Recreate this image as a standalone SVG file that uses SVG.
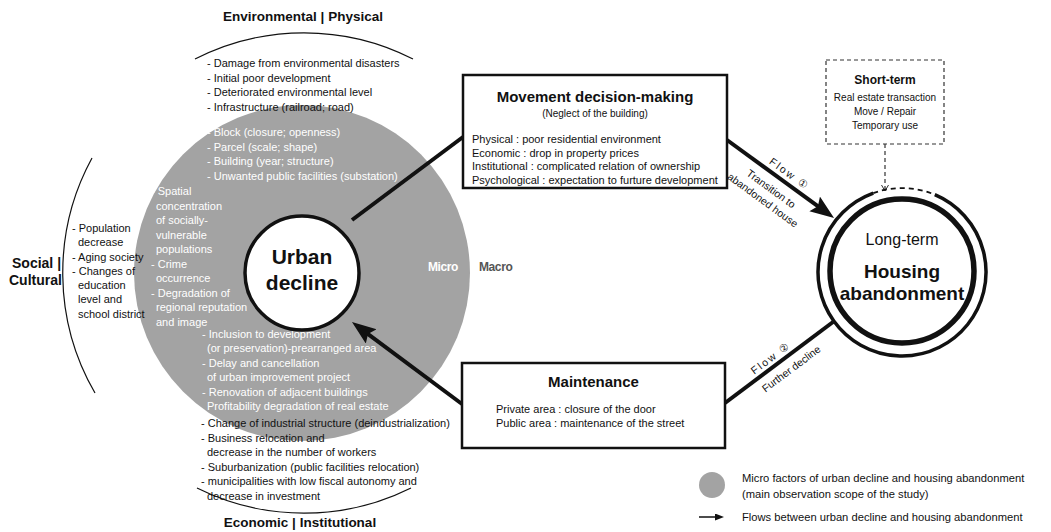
<svg xmlns="http://www.w3.org/2000/svg" width="1051" height="532" viewBox="0 0 1051 532">
<defs>
<style>
text{font-family:"Liberation Sans",Arial,"DejaVu Sans",sans-serif;fill:#111}
.t{font-size:11px}
.w{font-size:11px;fill:#fff}
.b{font-weight:bold}
.h{font-size:13.5px;font-weight:bold}
.s{font-size:10px}
.m{text-anchor:middle}
.box{fill:#fff;stroke:#111;stroke-width:2.5}
.arc{fill:none;stroke:#111;stroke-width:1.2}
.con{fill:none;stroke:#111;stroke-width:4}
.fl{font-size:10.5px}
</style>
<marker id="ah" markerUnits="userSpaceOnUse" markerWidth="26" markerHeight="20" refX="6" refY="9" orient="auto">
<path d="M0,0 L24,9 L0,18 L4,9 z" fill="#111"/>
</marker>
<marker id="ahs" markerUnits="userSpaceOnUse" markerWidth="12" markerHeight="10" refX="2" refY="3.5" orient="auto">
<path d="M0,0 L9,3.5 L0,7 z" fill="#111"/>
</marker>
<marker id="ahv" markerUnits="userSpaceOnUse" markerWidth="10" markerHeight="10" refX="6" refY="3.5" orient="auto">
<path d="M0,0 L6,3.5 L0,7" fill="none" stroke="#333" stroke-width="1"/>
</marker>
</defs>
<rect width="1051" height="532" fill="#fff"/>

<g id="scope">
<circle cx="302" cy="273" r="168" fill="#a3a3a3"/>
<path class="arc" d="M195,59 A240,240 0 0 1 413,59"/>
<path class="arc" d="M92,158 A240,240 0 0 0 95,393"/>
<path class="arc" d="M197,488 A240,240 0 0 0 411,488"/>
<text class="h m" x="303" y="21">Environmental | Physical</text>
<text class="h m" x="300" y="527">Economic | Institutional</text>
<text class="h" x="12" y="268" style="font-size:14px">Social |</text>
<text class="h" x="9" y="285" style="font-size:14px">Cultural</text>
<text class="t" x="207" y="67">- Damage from environmental disasters</text>
<text class="t" x="207" y="81.5">- Initial poor development</text>
<text class="t" x="207" y="96">- Deteriorated environmental level</text>
<text class="t" x="207" y="110.5">- Infrastructure (railroad; road)</text>
<text class="w" x="207" y="136">- Block (closure; openness)</text>
<text class="w" x="207" y="150.5">- Parcel (scale; shape)</text>
<text class="w" x="207" y="165">- Building (year; structure)</text>
<text class="w" x="207" y="179.5">- Unwanted public facilities (substation)</text>
<text class="w" x="151" y="195">- Spatial</text>
<text class="w" x="156" y="209.5">concentration</text>
<text class="w" x="156" y="224">of socially-</text>
<text class="w" x="156" y="238.5">vulnerable</text>
<text class="w" x="156" y="253">populations</text>
<text class="w" x="151" y="267.5">- Crime</text>
<text class="w" x="156" y="282">occurrence</text>
<text class="w" x="151" y="296.5">- Degradation of</text>
<text class="w" x="156" y="311">regional reputation</text>
<text class="w" x="156" y="325.5">and image</text>
<text class="t" x="72" y="232">- Population</text>
<text class="t" x="78" y="246">decrease</text>
<text class="t" x="72" y="260.5">- Aging society</text>
<text class="t" x="72" y="274.5">- Changes of</text>
<text class="t" x="78" y="289">education</text>
<text class="t" x="78" y="303">level and</text>
<text class="t" x="78" y="317.5">school district</text>
<text class="w" x="202" y="338">- Inclusion to development</text>
<text class="w" x="207" y="352">(or preservation)-prearranged area</text>
<text class="w" x="202" y="367">- Delay and cancellation</text>
<text class="w" x="207" y="381">of urban improvement project</text>
<text class="w" x="202" y="395.5">- Renovation of adjacent buildings</text>
<text class="w" x="207" y="410">Profitability degradation of real estate</text>
<text class="t" x="201" y="427">- Change of industrial structure (deindustrialization)</text>
<text class="t" x="201" y="441.5">- Business relocation and</text>
<text class="t" x="207" y="456">decrease in the number of workers</text>
<text class="t" x="201" y="470.5">- Suburbanization (public facilities relocation)</text>
<text class="t" x="201" y="485">- municipalities with low fiscal autonomy  and</text>
<text class="t" x="207" y="499.5">decrease in investment</text>
<text class="b" x="428" y="271" style="font-size:12px;fill:#fff;letter-spacing:-0.4px">Micro</text>
<text class="b" x="479" y="271" style="font-size:12px;fill:#555;letter-spacing:-0.4px">Macro</text>
</g>

<g id="connectors">
<line class="con" x1="352" y1="220" x2="463" y2="137"/>
<line class="con" x1="727" y1="140" x2="819.5" y2="207.4" marker-end="url(#ah)"/>
<line class="con" x1="833" y1="322" x2="725" y2="403"/>
<line class="con" x1="462" y1="404" x2="366.4" y2="332.8" marker-end="url(#ah)"/>
<line x1="885" y1="144" x2="885" y2="191" stroke="#333" stroke-width="1.2" stroke-dasharray="4,3" marker-end="url(#ahv)"/>
<g transform="translate(780,180) rotate(36.1)">
<text class="fl m" x="4" y="-7" style="letter-spacing:2px">Flow ①</text>
<text class="fl m" x="-2" y="16">Transition to</text>
<text class="fl m" x="-2" y="30">abandoned house</text>
</g>
<g transform="translate(779,362.5) rotate(-36.9)">
<text class="fl m" x="-4" y="-5" style="letter-spacing:2px">Flow ②</text>
<text class="fl m" x="6" y="16">Further decline</text>
</g>
</g>

<g id="urban-decline">
<circle cx="302" cy="273" r="57" fill="#fff" stroke="#111" stroke-width="3.5"/>
<text class="b m" x="302" y="264" style="font-size:21px">Urban</text>
<text class="b m" x="302" y="290" style="font-size:21px">decline</text>
</g>

<g id="movement">
<rect class="box" x="463" y="75" width="264" height="113"/>
<text class="b m" x="595" y="102" style="font-size:15px">Movement decision-making</text>
<text class="s m" x="595" y="117">(Neglect of the building)</text>
<text class="t" x="472" y="143">Physical : poor residential environment</text>
<text class="t" x="472" y="156.5">Economic : drop in property prices</text>
<text class="t" x="472" y="170">Institutional : complicated relation of ownership</text>
<text class="t" x="472" y="183.5">Psychological : expectation to furture development</text>
</g>

<g id="maintenance">
<rect class="box" x="462" y="363" width="263" height="85"/>
<text class="b m" x="593.5" y="387" style="font-size:15px">Maintenance</text>
<text class="t" x="496" y="413">Private area : closure of the door</text>
<text class="t" x="496" y="427">Public area : maintenance of the street</text>
</g>

<g id="short-term">
<rect x="826" y="60" width="118" height="84" fill="none" stroke="#333" stroke-width="1.2" stroke-dasharray="4,3"/>
<text class="b m" x="885" y="84" style="font-size:12px">Short-term</text>
<text class="s m" x="885" y="101">Real estate transaction</text>
<text class="s m" x="885" y="115">Move / Repair</text>
<text class="s m" x="885" y="129">Temporary use</text>
</g>

<g id="housing-abandonment">
<path d="M934.8,194.7 A84,84 0 1 1 873.3,193.1" fill="none" stroke="#111" stroke-width="3.5"/>
<path d="M873.3,193.1 A84,84 0 0 1 934.8,194.7" fill="none" stroke="#111" stroke-width="1.8" stroke-dasharray="5,4"/>
<circle cx="902" cy="271" r="72" fill="#fff" stroke="#111" stroke-width="5.5"/>
<text class="m" x="902" y="245" style="font-size:16px">Long-term</text>
<text class="b m" x="902" y="278" style="font-size:19px">Housing</text>
<text class="b m" x="902" y="300" style="font-size:19px">abandonment</text>
</g>

<g id="legend">
<circle cx="712" cy="485" r="13" fill="#a3a3a3"/>
<text x="742" y="482" style="font-size:11.2px">Micro factors of urban decline and housing abandonment</text>
<text x="742" y="498" style="font-size:11.2px">(main observation scope of the study)</text>
<line x1="699" y1="517" x2="717" y2="517" stroke="#111" stroke-width="1.5" marker-end="url(#ahs)"/>
<text x="742" y="521" style="font-size:11.2px">Flows between urban decline and housing abandonment</text>
</g>
</svg>
